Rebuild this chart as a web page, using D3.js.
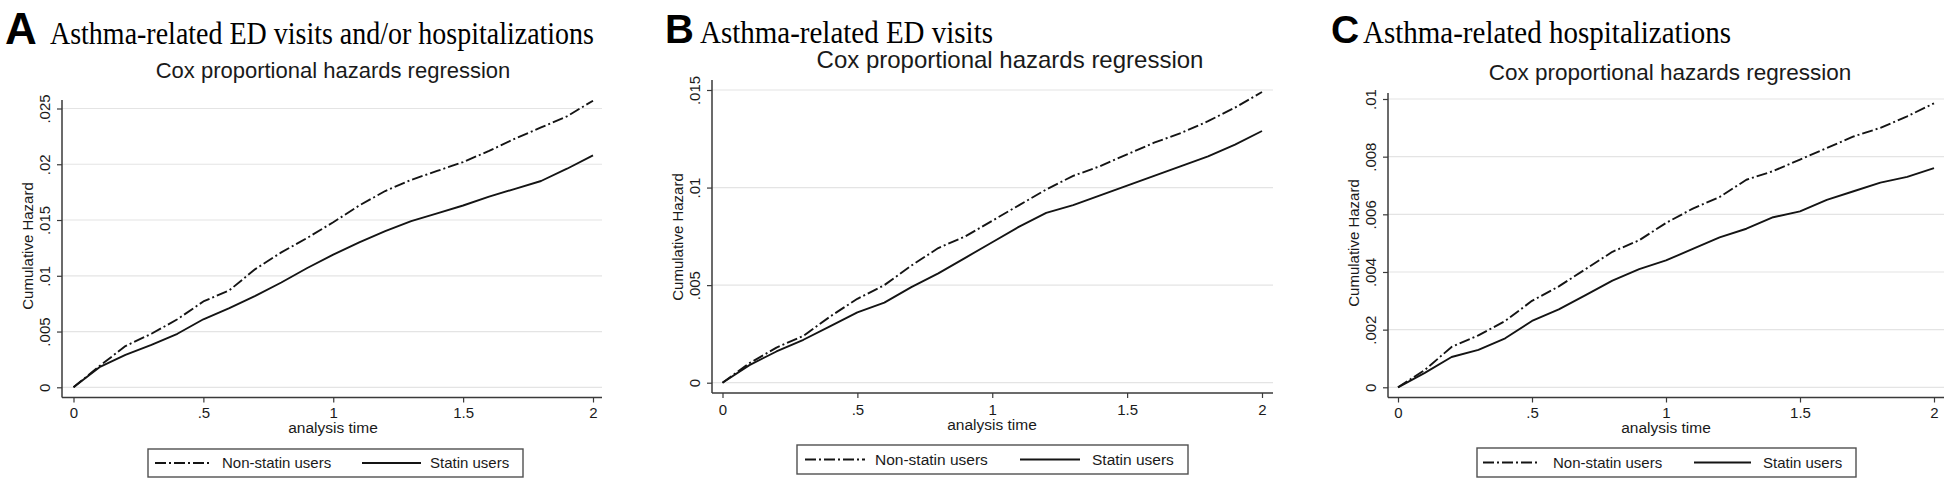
<!DOCTYPE html>
<html>
<head>
<meta charset="utf-8">
<script src="https://cdn.jsdelivr.net/npm/d3@7/dist/d3.min.js"></script>
<style>
  html, body { margin: 0; padding: 0; background: #ffffff; }
  svg { display: block; }
  text { font-family: "Liberation Sans", Arial, Helvetica, sans-serif; fill: #1a1a1a; }
  .serif { font-family: "Liberation Serif", "Times New Roman", Times, serif; }
</style>
</head>
<body>
<svg id="chart" width="1959" height="485"></svg>
<script>
// ---------------- DATA ----------------
const panelLetters = ["A", "B", "C"];
const panelTitles = [
  "Asthma-related ED visits and/or hospitalizations",
  "Asthma-related ED visits",
  "Asthma-related hospitalizations"
];
const subtitle = "Cox proportional hazards regression";
const xAxisTitle = "analysis time";
const yAxisTitle = "Cumulative Hazard";
const seriesNames = ["Non-statin users", "Statin users"];

const xTickValues = [0, 0.5, 1, 1.5, 2];
const xTickLabels = ["0", ".5", "1", "1.5", "2"];

const timePoints = [0, 0.1, 0.2, 0.3, 0.4, 0.5, 0.6, 0.7, 0.8, 0.9, 1.0,
                    1.1, 1.2, 1.3, 1.4, 1.5, 1.6, 1.7, 1.8, 1.9, 2.0];

// Panel A
const yTicksA = [0, 0.005, 0.01, 0.015, 0.02, 0.025];
const yTickLabelsA = ["0", ".005", ".01", ".015", ".02", ".025"];
const nonStatinA = [0, 0.0019, 0.0037, 0.0048, 0.0061, 0.0077, 0.0087, 0.0106, 0.0121, 0.0134, 0.0148,
                    0.0163, 0.0176, 0.0186, 0.0194, 0.0202, 0.0212, 0.0223, 0.0233, 0.0243, 0.0257];
const statinA    = [0, 0.0018, 0.0029, 0.0038, 0.0048, 0.0061, 0.0071, 0.0082, 0.0094, 0.0107, 0.0119,
                    0.0130, 0.0140, 0.0149, 0.0156, 0.0163, 0.0171, 0.0178, 0.0185, 0.0196, 0.0208];

// Panel B
const yTicksB = [0, 0.005, 0.01, 0.015];
const yTickLabelsB = ["0", ".005", ".01", ".015"];
const nonStatinB = [0, 0.0010, 0.0018, 0.0024, 0.0034, 0.0043, 0.0050, 0.0060, 0.0069, 0.0075, 0.0083,
                    0.0091, 0.0099, 0.0106, 0.0111, 0.0117, 0.0123, 0.0128, 0.0134, 0.0141, 0.0149];
const statinB    = [0, 0.0009, 0.0016, 0.0022, 0.0029, 0.0036, 0.0041, 0.0049, 0.0056, 0.0064, 0.0072,
                    0.0080, 0.0087, 0.0091, 0.0096, 0.0101, 0.0106, 0.0111, 0.0116, 0.0122, 0.0129];

// Panel C
const yTicksC = [0, 0.002, 0.004, 0.006, 0.008, 0.01];
const yTickLabelsC = ["0", ".002", ".004", ".006", ".008", ".01"];
const nonStatinC = [0, 0.0006, 0.0014, 0.0018, 0.0023, 0.0030, 0.0035, 0.0041, 0.0047, 0.0051, 0.0057,
                    0.0062, 0.0066, 0.0072, 0.0075, 0.0079, 0.0083, 0.0087, 0.0090, 0.0094, 0.00985];
const statinC    = [0, 0.0005, 0.00105, 0.0013, 0.0017, 0.0023, 0.0027, 0.0032, 0.0037, 0.0041, 0.0044,
                    0.0048, 0.0052, 0.0055, 0.0059, 0.0061, 0.0065, 0.0068, 0.0071, 0.0073, 0.0076];

// ---------------- LAYOUT (positions / sizes only) ----------------
const layouts = [
  { axisX: 62, x0: 73.5, x2: 593, right: 602, top: 100, y0: 387.3, yTopPx: 108.5, axisY: 397.5,
    letterX: 5, titleX: 50, titleBase: 44, letterSize: 44, titleSize: 31, titleLen: 544,
    subX: 333, subBase: 78, subSize: 22,
    tickBase: 418, xTitleX: 333, xTitleBase: 433, yTitleY: 246,
    legend: { x1: 148, x2: 523, y1: 449, y2: 477, s1a: 155, s1b: 212, t1: 222, s2a: 362, s2b: 421, t2: 430, size: 15 } },
  { axisX: 712, x0: 722.5, x2: 1262, right: 1273, top: 80, y0: 382.7, yTopPx: 90, axisY: 393,
    letterX: 665, titleX: 700, titleBase: 43, letterSize: 40, titleSize: 31, titleLen: 293,
    subX: 1010, subBase: 68, subSize: 24,
    tickBase: 415, xTitleX: 992, xTitleBase: 430, yTitleY: 237,
    legend: { x1: 797, x2: 1188, y1: 445, y2: 474, s1a: 805, s1b: 865, t1: 875, s2a: 1020, s2b: 1080, t2: 1092, size: 15.5 } },
  { axisX: 1388, x0: 1398, x2: 1934, right: 1944, top: 93, y0: 387.3, yTopPx: 99, axisY: 397.5,
    letterX: 1331, titleX: 1363, titleBase: 43, letterSize: 39, titleSize: 31, titleLen: 368,
    subX: 1670, subBase: 80, subSize: 22.5,
    tickBase: 418, xTitleX: 1666, xTitleBase: 433, yTitleY: 243,
    legend: { x1: 1477, x2: 1856, y1: 448, y2: 477, s1a: 1483, s1b: 1538, t1: 1553, s2a: 1694, s2b: 1751, t2: 1763, size: 15 } }
];

const panelData = [
  { yTicks: yTicksA, yLabels: yTickLabelsA, series: [nonStatinA, statinA] },
  { yTicks: yTicksB, yLabels: yTickLabelsB, series: [nonStatinB, statinB] },
  { yTicks: yTicksC, yLabels: yTickLabelsC, series: [nonStatinC, statinC] }
];

const dashDot = "11,3,2,3";
const lineColor = "#141414";
const gridColor = "#e4e4e4";
const axisColor = "#3a3a3a";

const svg = d3.select("#chart");

panelData.forEach((pd, i) => {
  const L = layouts[i];
  const g = svg.append("g");

  const x = d3.scaleLinear().domain([0, 2]).range([L.x0, L.x2]);
  const topVal = pd.yTicks[pd.yTicks.length - 1];
  const y = d3.scaleLinear().domain([0, topVal]).range([L.y0, L.yTopPx]);

  // panel letter + title
  g.append("text").attr("x", L.letterX).attr("y", L.titleBase)
    .style("font-weight", "bold").style("font-size", L.letterSize + "px").style("fill", "#000")
    .text(panelLetters[i]);
  g.append("text").attr("class", "serif").attr("x", L.titleX).attr("y", L.titleBase)
    .attr("textLength", L.titleLen).attr("lengthAdjust", "spacingAndGlyphs")
    .style("font-size", L.titleSize + "px").style("fill", "#000")
    .text(panelTitles[i]);

  // subtitle
  g.append("text").attr("x", L.subX).attr("y", L.subBase).attr("text-anchor", "middle")
    .style("font-size", L.subSize + "px").text(subtitle);

  // gridlines
  g.append("g").selectAll("line").data(pd.yTicks).join("line")
    .attr("x1", L.axisX).attr("x2", L.right)
    .attr("y1", d => y(d)).attr("y2", d => y(d))
    .attr("stroke", gridColor).attr("stroke-width", 1.2);

  // y axis via d3
  const yAxis = d3.axisLeft(y).tickValues(pd.yTicks).tickSize(5).tickFormat((d, k) => pd.yLabels[k]);
  const ya = g.append("g").attr("transform", `translate(${L.axisX},0)`).call(yAxis);
  ya.select(".domain").remove();
  ya.selectAll(".tick line").attr("stroke", axisColor).attr("stroke-width", 1.2);
  ya.selectAll(".tick text")
    .attr("x", null).attr("dy", null)
    .attr("transform", "translate(-12,0) rotate(-90)")
    .attr("text-anchor", "middle")
    .style("font-size", "15px").style("font-family", "'Liberation Sans', Arial, sans-serif")
    .attr("fill", "#1a1a1a");

  // x axis via d3
  const xAxis = d3.axisBottom(x).tickValues(xTickValues).tickSize(5).tickFormat((d, k) => xTickLabels[k]);
  const xa = g.append("g").attr("transform", `translate(0,${L.axisY})`).call(xAxis);
  xa.select(".domain").remove();
  xa.selectAll(".tick line").attr("stroke", axisColor).attr("stroke-width", 1.2);
  xa.selectAll(".tick text")
    .attr("y", L.tickBase - L.axisY).attr("dy", null)
    .style("font-size", "15px").style("font-family", "'Liberation Sans', Arial, sans-serif")
    .attr("fill", "#1a1a1a");

  // axis lines (frame left & bottom)
  g.append("line").attr("x1", L.axisX).attr("x2", L.axisX).attr("y1", L.top).attr("y2", L.axisY)
    .attr("stroke", axisColor).attr("stroke-width", 1.5);
  g.append("line").attr("x1", L.axisX).attr("x2", L.right).attr("y1", L.axisY).attr("y2", L.axisY)
    .attr("stroke", axisColor).attr("stroke-width", 1.5);

  // axis titles
  g.append("text").attr("transform", `translate(${L.axisX - 29},${L.yTitleY}) rotate(-90)`)
    .attr("text-anchor", "middle").style("font-size", "15px").text(yAxisTitle);
  g.append("text").attr("x", L.xTitleX).attr("y", L.xTitleBase).attr("text-anchor", "middle")
    .style("font-size", "15.5px").text(xAxisTitle);

  // curves
  const line = d3.line().x((d, k) => x(timePoints[k])).y(d => y(d));
  pd.series.forEach((s, si) => {
    g.append("path").datum(s).attr("d", line)
      .attr("fill", "none").attr("stroke", lineColor).attr("stroke-width", 1.9)
      .attr("stroke-linejoin", "round")
      .attr("stroke-dasharray", si === 0 ? dashDot : null);
  });

  // legend
  const lg = L.legend;
  const cy = (lg.y1 + lg.y2) / 2;
  g.append("rect").attr("x", lg.x1).attr("y", lg.y1).attr("width", lg.x2 - lg.x1).attr("height", lg.y2 - lg.y1)
    .attr("fill", "#fff").attr("stroke", "#505050").attr("stroke-width", 1.4);
  const items = [
    { a: lg.s1a, b: lg.s1b, t: lg.t1, dash: dashDot, name: seriesNames[0] },
    { a: lg.s2a, b: lg.s2b, t: lg.t2, dash: null, name: seriesNames[1] }
  ];
  items.forEach(it => {
    g.append("line").attr("x1", it.a).attr("x2", it.b).attr("y1", cy).attr("y2", cy)
      .attr("stroke", lineColor).attr("stroke-width", 1.9).attr("stroke-dasharray", it.dash);
    g.append("text").attr("x", it.t).attr("y", cy).attr("dy", "0.36em")
      .style("font-size", lg.size + "px").text(it.name);
  });
});
</script>
</body>
</html>
